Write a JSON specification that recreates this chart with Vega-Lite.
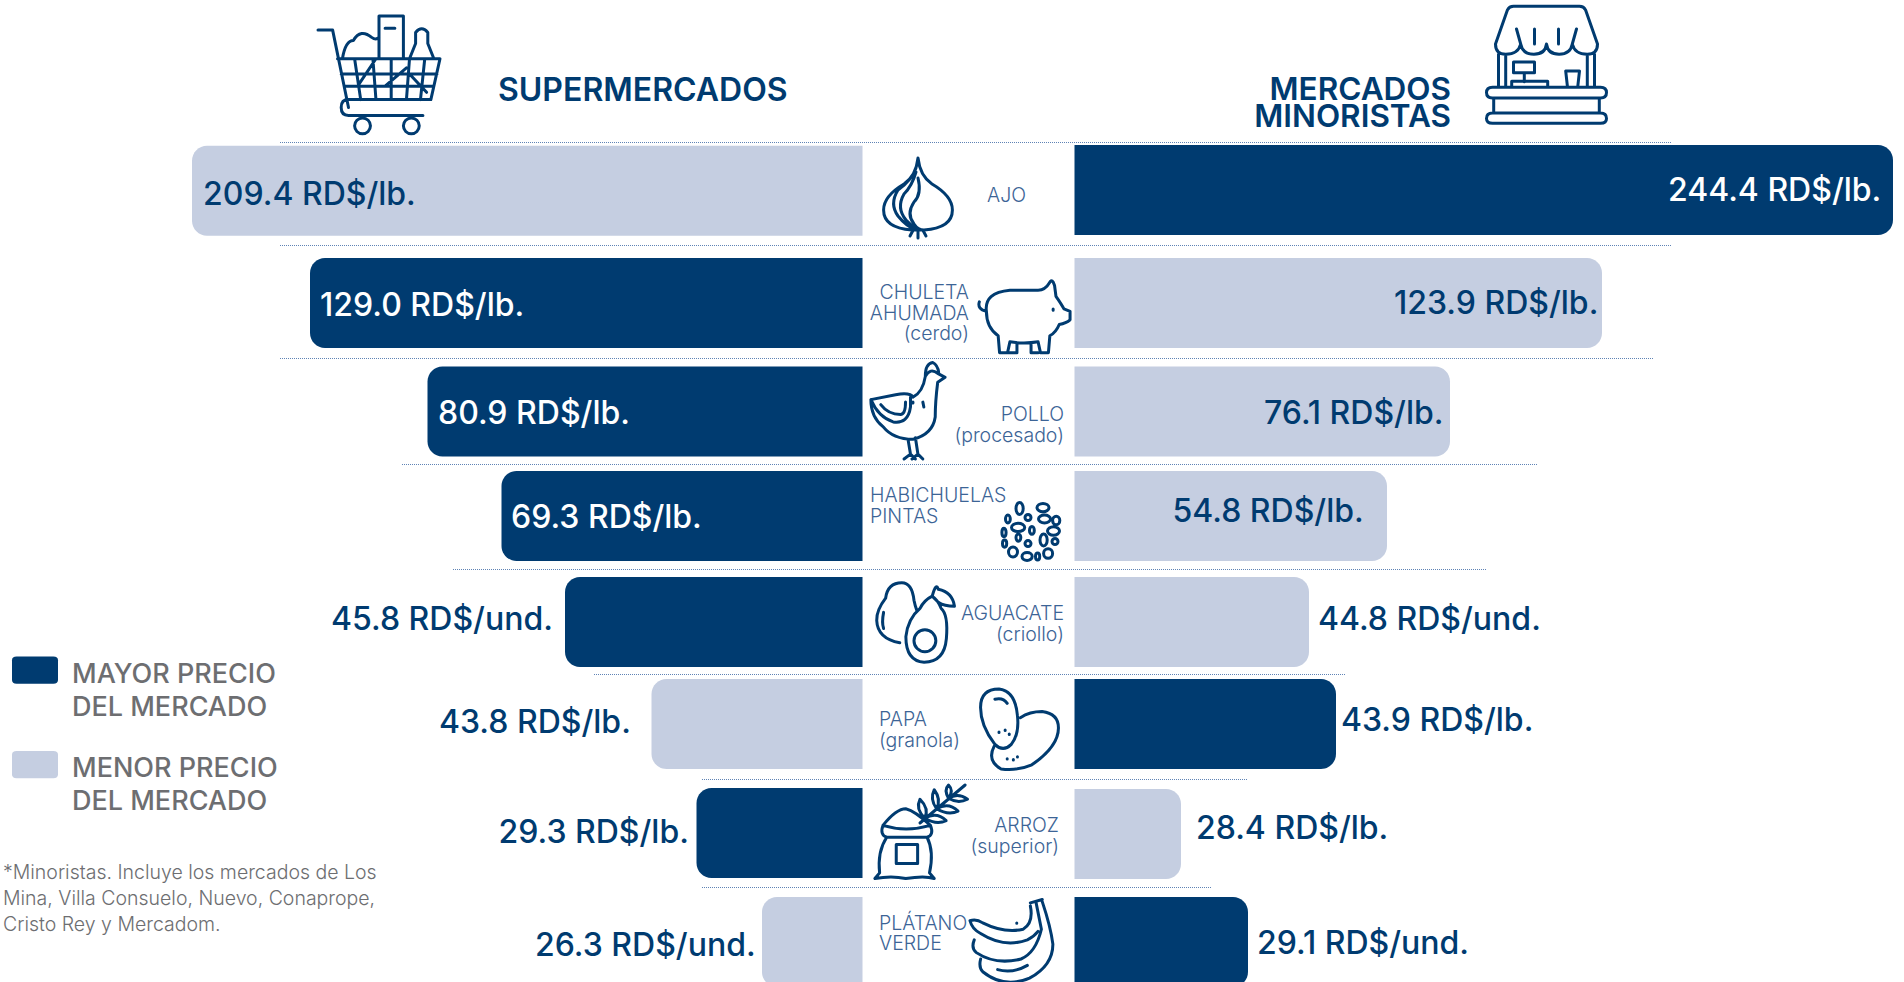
{"$schema":"https://vega.github.io/schema/vega-lite/v6.json","width":1904,"height":982,"padding":0,"autosize":{"type":"none"},"background":"white","config":{"view":{"stroke":null},"font":"Inter"},
"datasets":{
"precios":[
{"producto":"Ajo","orden":1,"mercado":"Supermercados","valor":209.4,"unidad":"RD$/lb.","nivel":"Menor","etiqueta":"209.4 RD$/lb."},
{"producto":"Chuleta ahumada (cerdo)","orden":2,"mercado":"Supermercados","valor":129.0,"unidad":"RD$/lb.","nivel":"Mayor","etiqueta":"129.0 RD$/lb."},
{"producto":"Pollo (procesado)","orden":3,"mercado":"Supermercados","valor":80.9,"unidad":"RD$/lb.","nivel":"Mayor","etiqueta":"80.9 RD$/lb."},
{"producto":"Habichuelas pintas","orden":4,"mercado":"Supermercados","valor":69.3,"unidad":"RD$/lb.","nivel":"Mayor","etiqueta":"69.3 RD$/lb."},
{"producto":"Aguacate (criollo)","orden":5,"mercado":"Supermercados","valor":45.8,"unidad":"RD$/und.","nivel":"Mayor","etiqueta":"45.8 RD$/und."},
{"producto":"Papa (granola)","orden":6,"mercado":"Supermercados","valor":43.8,"unidad":"RD$/lb.","nivel":"Menor","etiqueta":"43.8 RD$/lb."},
{"producto":"Arroz (superior)","orden":7,"mercado":"Supermercados","valor":29.3,"unidad":"RD$/lb.","nivel":"Mayor","etiqueta":"29.3 RD$/lb."},
{"producto":"Plátano verde","orden":8,"mercado":"Supermercados","valor":26.3,"unidad":"RD$/und.","nivel":"Menor","etiqueta":"26.3 RD$/und."},
{"producto":"Ajo","orden":1,"mercado":"Minoristas","valor":244.4,"unidad":"RD$/lb.","nivel":"Mayor","etiqueta":"244.4 RD$/lb."},
{"producto":"Chuleta ahumada (cerdo)","orden":2,"mercado":"Minoristas","valor":123.9,"unidad":"RD$/lb.","nivel":"Menor","etiqueta":"123.9 RD$/lb."},
{"producto":"Pollo (procesado)","orden":3,"mercado":"Minoristas","valor":76.1,"unidad":"RD$/lb.","nivel":"Menor","etiqueta":"76.1 RD$/lb."},
{"producto":"Habichuelas pintas","orden":4,"mercado":"Minoristas","valor":54.8,"unidad":"RD$/lb.","nivel":"Menor","etiqueta":"54.8 RD$/lb."},
{"producto":"Aguacate (criollo)","orden":5,"mercado":"Minoristas","valor":44.8,"unidad":"RD$/und.","nivel":"Menor","etiqueta":"44.8 RD$/und."},
{"producto":"Papa (granola)","orden":6,"mercado":"Minoristas","valor":43.9,"unidad":"RD$/lb.","nivel":"Mayor","etiqueta":"43.9 RD$/lb."},
{"producto":"Arroz (superior)","orden":7,"mercado":"Minoristas","valor":28.4,"unidad":"RD$/lb.","nivel":"Menor","etiqueta":"28.4 RD$/lb."},
{"producto":"Plátano verde","orden":8,"mercado":"Minoristas","valor":29.1,"unidad":"RD$/und.","nivel":"Mayor","etiqueta":"29.1 RD$/und."}
],
"divisores":[{"linea":1,"izq":-1,"der":1},{"linea":2,"izq":-2,"der":2},{"linea":3,"izq":-3,"der":3},{"linea":4,"izq":-4,"der":4},{"linea":5,"izq":-5,"der":5},{"linea":6,"izq":-6,"der":6},{"linea":7,"izq":-7,"der":7},{"linea":8,"izq":-8,"der":8}],
"categorias":[
{"orden":1,"lado":"izq","texto":"AJO"},
{"orden":2,"lado":"der","texto":"CHULETA\nAHUMADA\n(cerdo)"},
{"orden":3,"lado":"der","texto":"POLLO\n(procesado)"},
{"orden":4,"lado":"izq","texto":"HABICHUELAS\nPINTAS"},
{"orden":5,"lado":"der","texto":"AGUACATE\n(criollo)"},
{"orden":6,"lado":"izq","texto":"PAPA\n(granola)"},
{"orden":7,"lado":"der","texto":"ARROZ\n(superior)"},
{"orden":8,"lado":"izq","texto":"PLÁTANO\nVERDE"}
],
"iconos":[{"n":0,"icono":"carrito"},{"n":1,"icono":"puesto"},{"n":2,"icono":"ajo"},{"n":3,"icono":"cerdo"},{"n":4,"icono":"pollo"},{"n":5,"icono":"habichuelas"},{"n":6,"icono":"aguacate"},{"n":7,"icono":"papa"},{"n":8,"icono":"arroz"},{"n":9,"icono":"platano"}],
"textos":[{"n":1,"texto":"SUPERMERCADOS"},{"n":2,"texto":"MERCADOS\nMINORISTAS"},{"n":3,"texto":"*Minoristas. Incluye los mercados de Los\nMina, Villa Consuelo, Nuevo, Conaprope,\nCristo Rey y Mercadom."}]
},
"layer":[
{"data":{"name":"divisores"},"mark":{"type":"rule","color":"#5f83b5","strokeWidth":1,"strokeDash":[1,1]},
"encoding":{"x":{"field":"izq","type":"quantitative","axis":null,"scale":{"domain":[-8,-7,-6,-5,-4,-3,-2,-1,1,2,3,4,5,6,7,8],"range":[702,702,594,453,402,280,280,280,1672,1672,1654,1538,1486,1345,1247,1211],"zero":false,"nice":false}},"x2":{"field":"der"},
"y":{"field":"linea","type":"quantitative","axis":null,"scale":{"domain":[1,2,3,4,5,6,7,8],"range":[142.5,245.5,358.5,464.5,569.5,674.5,779.5,887.5],"zero":false,"nice":false}}}},
{"data":{"name":"precios"},"transform":[{"filter":"datum.mercado=='Supermercados'"}],"mark":{"type":"bar","height":90,"cornerRadiusTopLeft":15,"cornerRadiusBottomLeft":15},
"encoding":{"x":{"field":"valor","type":"quantitative","stack":null,"axis":null,"scale":{"domain":[0,26.3,29.3,43.8,45.8,69.3,80.9,129,209.4],"range":[862.5,762,696.5,651.5,565,501.5,427.5,310,192],"zero":false,"nice":false,"padding":0}},"x2":{"datum":0},
"y":{"field":"orden","type":"quantitative","axis":null,"scale":{"domain":[1,2,3,4,5,6,7,8],"range":[190.75,303,411.5,516,622,724,833,942],"zero":false,"nice":false,"padding":0}},
"color":{"field":"nivel","type":"nominal","scale":{"domain":["Mayor","Menor"],"range":["#003b70","#c5cee1"]},
"legend":{"title":null,"orient":"none","legendX":12,"legendY":651.5,"symbolType":"M-1,-.62 Q-1,-.78 -.8,-.78 L.8,-.78 Q1,-.78 1,-.62 L1,.24 Q1,.4 .8,.4 L-.8,.4 Q-1,.4 -1,.24 Z","symbolSize":2116,"symbolStrokeWidth":0,"symbolOpacity":1,"labelFont":"Inter","labelFontSize":27,"labelFontWeight":500,"labelColor":"#6d6e71","labelLimit":400,"labelOffset":14,"rowPadding":25.5,"labelExpr":"datum.label=='Mayor' ? ['MAYOR PRECIO','DEL MERCADO'] : ['MENOR PRECIO','DEL MERCADO']","encoding":{"labels":{"lineHeight":{"value":33},"update":{"lineHeight":{"value":33}}}}}},
"tooltip":[{"field":"producto"},{"field":"etiqueta"}]}},
{"data":{"name":"precios"},"transform":[{"filter":"datum.mercado=='Minoristas'"}],"mark":{"type":"bar","height":90,"cornerRadiusTopRight":15,"cornerRadiusBottomRight":15},
"encoding":{"x":{"field":"valor","type":"quantitative","stack":null,"axis":null,"scale":{"domain":[0,28.4,29.1,43.9,44.8,54.8,76.1,123.9,244.4],"range":[1074.5,1181,1248,1336,1309,1387,1450,1602,1893],"zero":false,"nice":false,"padding":0}},"x2":{"datum":0},
"y":{"field":"orden","type":"quantitative","axis":null,"scale":{"domain":[1,2,3,4,5,6,7,8],"range":[190,303,411.5,516,622,724,834,942],"zero":false,"nice":false,"padding":0}},
"color":{"field":"nivel","type":"nominal"},
"tooltip":[{"field":"producto"},{"field":"etiqueta"}]}},
{"data":{"name":"precios"},"transform":[{"filter":"datum.mercado=='Supermercados'"}],"mark":{"type":"text","align":"left","baseline":"middle","fontSize":32,"fontWeight":500,"font":"Inter"},
"encoding":{"text":{"field":"etiqueta"},"x":{"field":"valor","type":"quantitative","axis":null,"scale":{"domain":[26.3,29.3,43.8,45.8,69.3,80.9,129,209.4],"range":[535,498.5,439,331,511,438,320,203],"zero":false,"nice":false}},
"y":{"field":"orden","type":"quantitative","axis":null,"scale":{"domain":[1,2,3,4,5,6,7,8],"range":[194.5,305.5,414,518,620,723,833,945.5],"zero":false,"nice":false}},
"color":{"condition":{"test":"datum.nivel=='Mayor' && datum.valor>60","value":"#ffffff"},"value":"#003b70"}}},
{"data":{"name":"precios"},"transform":[{"filter":"datum.mercado=='Minoristas'"}],"mark":{"type":"text","align":"left","baseline":"middle","fontSize":32,"fontWeight":500,"font":"Inter"},
"encoding":{"text":{"field":"etiqueta"},"x":{"field":"valor","type":"quantitative","axis":null,"scale":{"domain":[28.4,29.1,43.9,44.8,54.8,76.1,123.9,244.4],"range":[1196,1257,1341,1318,1172.5,1264,1394,1668],"zero":false,"nice":false}},
"y":{"field":"orden","type":"quantitative","axis":null,"scale":{"domain":[1,2,3,4,5,6,7,8],"range":[190.5,303.5,414,511.5,620,721,829,944],"zero":false,"nice":false}},
"color":{"condition":{"test":"datum.nivel=='Mayor' && datum.valor>60","value":"#ffffff"},"value":"#003b70"}}},
{"data":{"name":"categorias"},"transform":[{"filter":"datum.lado=='izq'"}],"mark":{"type":"text","align":"left","baseline":"middle","lineBreak":"\n","lineHeight":20.5,"fontSize":19.5,"fontWeight":300,"font":"Inter","color":"#3c6496"},
"encoding":{"text":{"field":"texto"},"x":{"field":"orden","type":"quantitative","axis":null,"scale":{"domain":[1,4,6,8],"range":[987,870,879,879],"zero":false,"nice":false}},
"y":{"field":"orden","type":"quantitative","axis":null,"scale":{"domain":[1,4,6,8],"range":[196,496,720,923.5],"zero":false,"nice":false}}}},
{"data":{"name":"categorias"},"transform":[{"filter":"datum.lado=='der'"}],"mark":{"type":"text","align":"right","baseline":"middle","lineBreak":"\n","lineHeight":20.5,"fontSize":19.5,"fontWeight":300,"font":"Inter","color":"#3c6496"},
"encoding":{"text":{"field":"texto"},"x":{"field":"orden","type":"quantitative","axis":null,"scale":{"domain":[2,3,5,7],"range":[969,1064,1064,1059],"zero":false,"nice":false}},
"y":{"field":"orden","type":"quantitative","axis":null,"scale":{"domain":[2,3,5,7],"range":[293,415,614,826],"zero":false,"nice":false}}}},
{"data":{"name":"textos"},"transform":[{"filter":"datum.n==1"}],"mark":{"type":"text","align":"left","baseline":"middle","fontSize":32,"fontWeight":600,"font":"Inter","color":"#003b70"},
"encoding":{"text":{"field":"texto"},"x":{"field":"n","type":"quantitative","axis":null,"scale":{"domain":[1,2,3],"range":[498,1451,3],"zero":false,"nice":false}},"y":{"field":"n","type":"quantitative","axis":null,"scale":{"domain":[1,2,3],"range":[91,91,873],"zero":false,"nice":false}}}},
{"data":{"name":"textos"},"transform":[{"filter":"datum.n==2"}],"mark":{"type":"text","align":"right","baseline":"middle","lineBreak":"\n","lineHeight":27,"fontSize":31.5,"fontWeight":600,"font":"Inter","color":"#003b70"},
"encoding":{"text":{"field":"texto"},"x":{"field":"n","type":"quantitative","axis":null,"scale":{"domain":[1,2,3],"range":[498,1451,3],"zero":false,"nice":false}},"y":{"field":"n","type":"quantitative","axis":null,"scale":{"domain":[1,2,3],"range":[91,91,873],"zero":false,"nice":false}}}},
{"data":{"name":"textos"},"transform":[{"filter":"datum.n==3"}],"mark":{"type":"text","align":"left","baseline":"middle","lineBreak":"\n","lineHeight":26,"fontSize":19.5,"fontWeight":300,"font":"Inter","color":"#6d6e71"},
"encoding":{"text":{"field":"texto"},"x":{"field":"n","type":"quantitative","axis":null,"scale":{"domain":[1,2,3],"range":[498,1451,3],"zero":false,"nice":false}},"y":{"field":"n","type":"quantitative","axis":null,"scale":{"domain":[1,2,3],"range":[91,91,873],"zero":false,"nice":false}}}},
{"data":{"name":"iconos"},"mark":{"type":"point","filled":false,"color":"#003b70","opacity":1,"strokeWidth":3,"strokeCap":"round","strokeJoin":"round"},
"encoding":{"x":{"field":"n","type":"quantitative","axis":null,"scale":{"domain":[0,1,2,3,4,5,6,7,8,9],"range":[379,1546.5,918,1024,908,1031,916,1019.5,920,1012.5],"zero":false,"nice":false}},
"y":{"field":"n","type":"quantitative","axis":null,"scale":{"domain":[0,1,2,3,4,5,6,7,8,9],"range":[74,65,198,316,412,531,622.5,730,832.5,942],"zero":false,"nice":false}},
"size":{"field":"n","type":"quantitative","legend":null,"scale":{"zero":false,"nice":false,"domain":[0,1,2,3,4,5,6,7,8,9],"range":[14884,14400,6400,8836,9801,3600,6561,6724,9025,7225]}},
"shape":{"field":"icono","type":"nominal","legend":null,"scale":{"domain":["carrito","puesto","ajo","cerdo","pollo","habichuelas","aguacate","papa","arroz","platano"],"range":[
"M-1,-.72 L-.76,-.72 L-.5,.55 M-.68,-.25 L1,-.25 L.85,.42 L-.52,.42 M-.62,0 L.95,0 M-.57,.2 L.9,.2 M-.4,-.25 L-.3,.42 M-.1,-.25 L-.05,.42 M.2,-.25 L.2,.42 M.5,-.25 L.45,.42 M.75,-.25 L.68,.42 M-.35,.2 L-.05,-.25 M.1,.2 L.45,-.1 M.5,0 L.78,.3 M-.5,.42 Q-.62,.42 -.62,.55 Q-.62,.68 -.5,.68 L.72,.68 M-.4,.85 a.13,.13 0 1,0 .26,0 a.13,.13 0 1,0 -.26,0 M.4,.85 a.13,.13 0 1,0 .26,0 a.13,.13 0 1,0 -.26,0 M-.6,-.25 Q-.55,-.55 -.42,-.55 Q-.3,-.75 -.12,-.6 Q-.05,-.55 0,-.6 M0,-.25 L0,-.95 L.4,-.95 L.4,-.25 M.1,-.75 L.26,-.75 M.5,-.25 L.6,-.5 L.6,-.68 Q.7,-.8 .8,-.68 L.8,-.5 L.9,-.25",
"M-.85,-.35 L-.65,-.92 Q-.62,-.98 -.55,-.98 L.55,-.98 Q.62,-.98 .65,-.92 L.85,-.35 M-.85,-.35 Q-.85,-.18 -.68,-.18 Q-.47,-.18 -.43,-.35 Q-.4,-.18 -.21,-.18 Q-.02,-.18 0,-.35 Q.02,-.18 .21,-.18 Q.4,-.18 .43,-.35 Q.47,-.18 .68,-.18 Q.85,-.18 .85,-.35 M-.5,-.6 L-.43,-.35 M-.2,-.6 L-.2,-.35 M.2,-.6 L.2,-.35 M.5,-.6 L.43,-.35 M-.8,-.18 L-.8,.37 M-.68,-.18 L-.68,.37 M.8,-.18 L.8,.37 M.68,-.18 L.68,.37 M-.9,.37 L.9,.37 Q1,.37 1,.46 Q1,.55 .9,.55 L-.9,.55 Q-1,.55 -1,.46 Q-1,.37 -.9,.37 Z M-.88,.55 L-.88,.8 M.88,.55 L.88,.8 M-.9,.8 L.9,.8 Q1,.8 1,.89 Q1,.97 .9,.97 L-.9,.97 Q-1,.97 -1,.89 Q-1,.8 -.9,.8 Z M-.55,-.05 h.35 v.18 h-.35 Z M-.37,.13 v.15 M-.58,.37 v-.1 h.6 v.1 M.35,.37 L.32,.1 L.55,.1 L.52,.37",
"M0,-1 Q.05,-.55 .35,-.35 Q.86,-.05 .86,.3 Q.86,.75 .15,.8 L-.15,.8 Q-.86,.75 -.86,.3 Q-.86,-.05 -.35,-.35 Q-.05,-.55 0,-1 Z M-.05,-.75 Q-.15,-.45 -.5,-.2 Q-.72,.15 -.5,.45 Q-.3,.7 -.05,.8 M-.05,-.65 Q-.15,-.3 -.35,-.1 Q-.55,.25 -.3,.55 Q-.15,.72 0,.8 M0,-.5 Q.1,-.1 -.1,.1 Q-.3,.4 -.1,.65 Q0,.8 .15,.8 M0,.8 L0,1 M-.12,.8 L-.2,.95 M.12,.8 L.2,.95",
"M-.8,-.1 Q-.85,-.5 -.3,-.55 L.3,-.55 Q.45,-.55 .55,-.72 Q.6,-.8 .65,-.65 L.68,-.42 Q.8,-.25 .85,-.15 L.98,-.1 L.98,.08 Q.9,.15 .75,.18 Q.68,.35 .55,.42 L.52,.78 L.35,.78 L.3,.55 Q0,.6 -.3,.55 L-.35,.78 L-.52,.78 L-.55,.42 Q-.8,.25 -.8,-.1 Z M.62,-.15 L.62,-.12 M-.8,-.1 Q-1,-.15 -.95,-.3 M.15,.58 L.15,.78 L.3,.78 M-.15,.58 L-.15,.78 L-.32,.78",
"M.35,-.72 Q.45,-.9 .6,-.78 L.75,-.7 L.6,-.6 Q.55,-.2 .55,.1 Q.5,.45 .1,.55 Q-.3,.55 -.5,.3 Q-.75,.1 -.75,-.25 L-.25,-.35 Q.05,-.4 .1,-.3 Q.3,-.4 .35,-.72 Z M-.75,-.25 Q-.6,.1 -.3,.2 Q0,.25 .05,-.1 L.05,-.3 M-.55,-.15 Q-.4,.05 -.15,.05 Q-.05,.05 -.05,-.2 M.35,-.72 Q.35,-.98 .5,-1 Q.6,-.95 .62,-.8 M0,.55 L.05,.85 M-.08,.95 L.05,.85 L.15,.95 M.15,.52 L.2,.85 M.08,.95 L.2,.85 L.3,.95 M.3,-.2 L.32,-.1 M.1,-.2 L.1,-.18",
"M-.5,-.75 a.12,.2 0 1,0 .24,0 a.12,.2 0 1,0 -.24,0 M.2,-.78 a.2,.14 0 1,0 .4,0 a.2,.14 0 1,0 -.4,0 M-.85,-.4 a.08,.13 0 1,0 .16,0 a.08,.13 0 1,0 -.16,0 M-.2,-.45 a.1,.1 0 1,0 .2,0 a.1,.1 0 1,0 -.2,0 M.25,-.4 a.2,.13 0 1,0 .4,0 a.2,.13 0 1,0 -.4,0 M-.65,-.12 a.22,.14 0 1,0 .44,0 a.22,.14 0 1,0 -.44,0 M.72,-.35 a.12,.14 0 1,0 .24,0 a.12,.14 0 1,0 -.24,0 M-.97,.05 a.07,.14 0 1,0 .14,0 a.07,.14 0 1,0 -.14,0 M-.05,-.02 a.08,.13 0 1,0 .16,0 a.08,.13 0 1,0 -.16,0 M.55,0 a.2,.14 0 1,0 .4,0 a.2,.14 0 1,0 -.4,0 M-.5,.22 a.08,.12 0 1,0 .16,0 a.08,.12 0 1,0 -.16,0 M.3,.3 a.12,.2 0 1,0 .24,0 a.12,.2 0 1,0 -.24,0 M-.95,.42 a.07,.12 0 1,0 .14,0 a.07,.12 0 1,0 -.14,0 M-.2,.42 a.1,.1 0 1,0 .2,0 a.1,.1 0 1,0 -.2,0 M.7,.35 a.1,.1 0 1,0 .2,0 a.1,.1 0 1,0 -.2,0 M-.75,.7 a.15,.17 0 1,0 .3,0 a.15,.17 0 1,0 -.3,0 M-.3,.85 a.17,.13 0 1,0 .34,0 a.17,.13 0 1,0 -.34,0 M.15,.85 a.07,.12 0 1,0 .14,0 a.07,.12 0 1,0 -.14,0 M.42,.75 a.15,.16 0 1,0 .3,0 a.15,.16 0 1,0 -.3,0",
"M-.4,.5 Q-.95,.4 -.97,-.05 Q-.98,-.3 -.75,-.6 Q-.7,-.98 -.35,-.98 Q-.1,-.98 -.05,-.55 Q-.02,-.4 .02,-.3 M-.8,-.25 Q-.85,0 -.8,.15 M.4,-.65 Q.2,-.55 .1,-.35 Q-.2,-.1 -.25,.35 Q-.25,.95 .2,.98 Q.7,.98 .75,.4 Q.8,-.2 .62,-.35 Q.55,-.55 .4,-.65 Z M-.05,.45 a.27,.27 0 1,0 .54,0 a.27,.27 0 1,0 -.54,0 M.4,-.65 Q.5,-1 .55,-.82 Q.9,-.75 .95,-.4 Q.7,-.4 .55,-.5 Z",
"M-.95,-.55 Q-.95,-1 -.5,-1 Q-.1,-.95 -.05,-.35 Q0,.1 -.2,.35 Q-.4,.55 -.6,.35 Q-.95,-.1 -.95,-.55 Z M-.62,.4 Q-.8,.75 -.45,.95 Q-.05,1 .3,.85 Q.95,.4 .95,-.05 Q.95,-.4 .55,-.45 Q.25,-.45 .02,-.3 M-.6,-.75 Q-.4,-.8 -.3,-.65 M-.5,.05 v.01 M-.35,0 v.01 M-.25,.1 v.01 M-.3,.7 v.01 M-.15,.72 v.01 M-.05,.65 v.01",
"M-.78,-.15 Q-.85,.05 -.7,.1 L.15,.1 Q.3,.05 .22,-.15 M-.7,.1 Q-.9,.4 -.85,.85 L-.95,.97 Q-.6,.9 -.3,.97 Q.1,.9 .3,.97 L.2,.85 Q.3,.4 .15,.1 M-.5,.25 h.45 v.4 h-.45 Z M-.78,-.15 Q-.5,-.5 -.3,-.5 Q-.1,-.45 .22,-.15 Q-.3,0 -.78,-.15 M0,-.2 L.95,-1 M.1,-.3 Q-.1,-.5 0,-.7 Q.2,-.5 .1,-.3 Z M.1,-.3 Q.35,-.15 .55,-.25 Q.35,-.45 .1,-.3 Z M.35,-.5 Q.2,-.7 .3,-.9 Q.45,-.7 .35,-.5 Z M.35,-.5 Q.6,-.35 .8,-.45 Q.6,-.65 .35,-.5 Z M.6,-.72 Q.5,-.9 .6,-1 Q.72,-.88 .6,-.72 Z M.6,-.72 Q.8,-.6 1,-.7 Q.8,-.85 .6,-.72 Z",
"M-1,-.5 Q-.85,-.55 -.7,-.45 Q-.2,-.2 .25,-.3 Q.5,-.45 .42,-.85 M-1,-.5 Q-.95,-.3 -.75,-.2 Q-.2,.15 .35,-.05 Q.5,-.12 .6,-.25 M-.9,-.05 Q-.98,.15 -.85,.25 Q-.4,.55 .2,.4 Q.55,.25 .68,-.3 L.55,-.95 M-.75,.4 Q-.8,.6 -.7,.7 Q-.2,1.1 .4,.85 Q.95,.55 .95,.05 Q.9,-.35 .7,-.95 M.42,-.92 L.7,-1 M.1,-.45 v.01 M-.35,.65 Q0,.75 .35,.55"
]}}}}
],
"resolve":{"scale":{"x":"independent","y":"independent","size":"independent"}}}
